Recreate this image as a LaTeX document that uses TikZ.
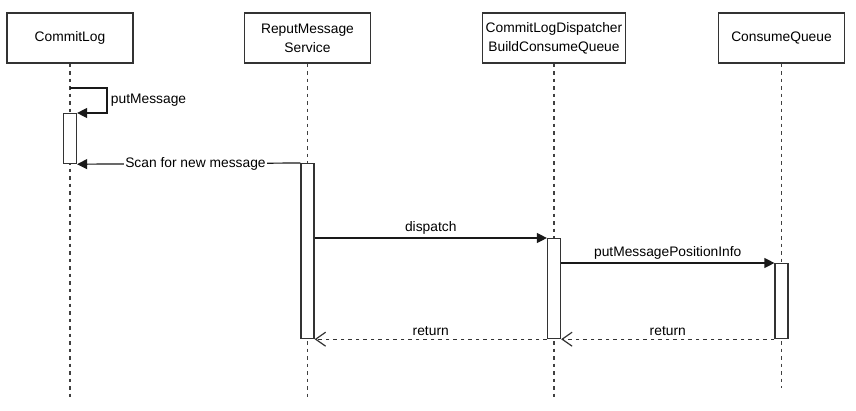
\documentclass[tikz,border=0pt]{standalone}
\usepackage{fontspec}
\setmainfont{Liberation Sans}
\usetikzlibrary {arrows.meta}
\begin{document}
\begin{tikzpicture} [
        x=1pt, y=-1pt,
        font=\fontsize{13.8}{19}\selectfont,
        line width=1.2pt,
        head/.style={draw=black!80, rectangle, fill=white, minimum width=126pt, minimum height=50pt},
        act/.style={draw=black!80, rectangle, fill=white, minimum width=13pt, inner sep=0pt, anchor=north},
        life/.style={draw=black!75, dash pattern=on 3.75pt off 3.75pt},
        call/.style={draw=black!90, -{Triangle[length=10pt,width=10pt]}},
        reply/.style={draw=black!80, dash pattern=on 3.75pt off 3.75pt, -{Straight Barb[length=10pt,width=14pt]}},
        align=center ]
    \useasboundingbox (0,0) rectangle (856,410);
    \node[head] (q1) at (70,38) {CommitLog};
    \node[head] (q2) at (307.5,38) {ReputMessage\\Service};
    \node[head] (q3) at (554,38) {CommitLogDispatcher\\BuildConsumeQueue};
    \node[head] (q4) at (781.5,38) {ConsumeQueue};
    \coordinate (e1) at (70,397);
    \coordinate (e2) at (307.5,397);
    \coordinate (e3) at (554,397);
    \coordinate (e4) at (781.5,388);
    \draw[life] (q1) -- (e1);
    \draw[life] (q2) -- (e2);
    \draw[life] (q3) -- (e3);
    \draw[life] (q4) -- (e4);
    \node[act, minimum height=50pt] (a1) at (70,113) {};
    \node[act, minimum height=175pt] (a2) at (307.5,163) {};
    \node[act, minimum height=100pt] (a3) at (554,238) {};
    \node[act, minimum height=75pt] (a4) at (781.5,263) {};
    \coordinate (m0) at (70,88);
    \draw[call] (m0) -- ++(37,0) |- node[right, pos=0.25] {putMessage} (a1.north east);
    \draw[call] (a2.north west) -- node[pos=0.47, fill=white, inner sep=1pt] {Scan for new message} (a1.south east);
    \draw[call] (a2.east |- a3.north) -- node[above] {dispatch} (a3.north west);
    \draw[call] (a3.east |- a4.north) -- node[above] {putMessagePositionInfo} (a4.north west);
    \draw[reply] (a4.south west) -- node[above] {return} (a3.south east);
    \draw[reply] (a3.south west) -- node[above] {return} (a2.south east);
    \end{tikzpicture}
\end{document}
